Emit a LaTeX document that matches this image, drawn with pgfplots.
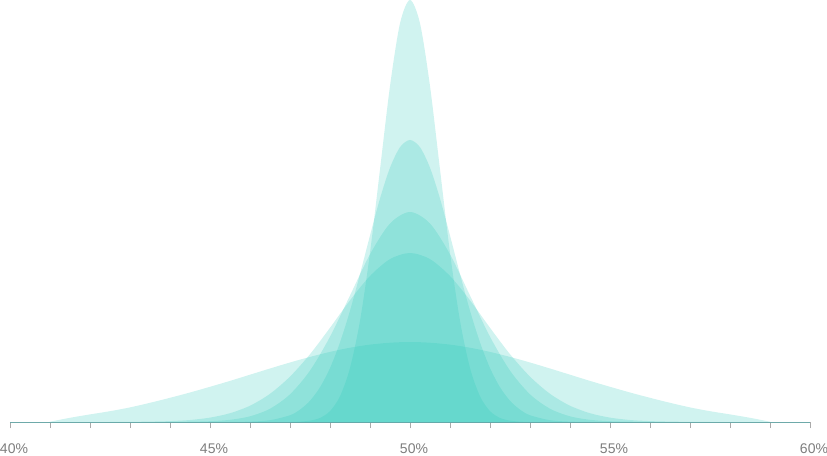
\documentclass[border=0pt]{standalone}
\usepackage{fontspec}
\setmainfont{Liberation Sans}
\usepackage{pgfplots}
\pgfplotsset{compat=1.18}
\definecolor{bell}{RGB}{41,200,185}
\definecolor{axisteal}{RGB}{110,170,170}
\definecolor{tickgray}{RGB}{170,170,170}
\definecolor{labelgray}{RGB}{125,125,125}

\begin{document}
\begin{tikzpicture}
\begin{axis}[
  at={(0pt,0pt)}, anchor=south west,
  scale only axis,
  width=800pt, height=422pt,
  xmin=40, xmax=60, ymin=0, ymax=422,
  axis x line*=bottom, axis y line=none,
  x axis line style={axisteal, line width=0.9pt, -},
  xtick={40,45,...,60},
  minor xtick={40,...,60},
  tick align=outside,
  major tick length=6pt, minor tick length=6pt,
  tick style={tickgray, line width=0.9pt},
  xticklabel={\pgfmathprintnumber{\tick}\%},
  xticklabel style={font=\fontsize{14}{16}\selectfont, text=labelgray, xshift=4pt, yshift=-12pt},
  /pgf/number format/assume math mode=true,
  clip=false,
]
% widest
\addplot[draw=none, fill=bell, fill opacity=0.22, smooth] coordinates {
 (41,0.3) (41.5,4.2) (42,7.6) (42.5,10.8) (43,14.6) (43.5,19.2) (44,24.2) (44.5,29.5)
 (45,35.2) (45.5,41.1) (46,47.3) (46.5,53.5) (47,59.5) (47.5,65.1) (48,70.1) (48.5,74.3)
 (49,77.4) (49.5,79.3) (50,80) (50.5,79.3) (51,77.4) (51.5,74.3) (52,70.1) (52.5,65.1)
 (53,59.5) (53.5,53.5) (54,47.3) (54.5,41.1) (55,35.2) (55.5,29.5) (56,24.2) (56.5,19.2)
 (57,14.6) (57.5,10.8) (58,7.6) (58.5,4.2) (59,0.3)
} \closedcycle;
\addplot[draw=none, fill=bell, fill opacity=0.22, smooth] coordinates {
 (42.5,0) (43,0.1) (43.5,0.4) (44,0.9) (44.5,2.0) (45,4.4) (45.5,8.8) (46,16.3) (46.5,28.2)
 (47,45.4) (47.5,67.8) (48,94.2) (48.5,121.7) (49,146.0) (49.5,162.9) (50,169)
 (50.5,162.9) (51,146.0) (51.5,121.7) (52,94.2) (52.5,67.8) (53,45.4) (53.5,28.2)
 (54,16.3) (54.5,8.8) (55,4.4) (55.5,2.0) (56,0.9) (56.5,0.4) (57,0.1) (57.5,0)
} \closedcycle;
\addplot[draw=none, fill=bell, fill opacity=0.22, smooth] coordinates {
 (44,0) (44.5,0.3) (45,0.8) (45.5,2.2) (46,5.7) (46.5,13.3) (47,27.7) (47.5,51.4)
 (48,85.3) (48.5,126.5) (49,167.7) (49.5,198.5) (50,210) (50.5,198.5) (51,167.7)
 (51.5,126.5) (52,85.3) (52.5,51.4) (53,27.7) (53.5,13.3) (54,5.7) (54.5,2.2)
 (55,0.8) (55.5,0.3) (56,0)
} \closedcycle;
\addplot[draw=none, fill=bell, fill opacity=0.22, smooth] coordinates {
 (45.5,0) (46,0.4) (46.5,1.8) (47,6.8) (47.25,12.4) (47.5,21.3) (47.75,34.8) (48,54.0)
 (48.25,79.6) (48.5,111.3) (48.75,147.9) (49,186.5) (49.25,223.5) (49.5,254.3)
 (49.75,274.8) (50,282) (50.25,274.8) (50.5,254.3) (50.75,223.5) (51,186.5)
 (51.25,147.9) (51.5,111.3) (51.75,79.6) (52,54.0) (52.25,34.8) (52.5,21.3)
 (52.75,12.4) (53,6.8) (53.5,1.8) (54,0.4) (54.5,0)
} \closedcycle;
% tallest
\addplot[draw=none, fill=bell, fill opacity=0.22, smooth] coordinates {
 (47,0) (47.25,0.4) (47.5,1.4) (47.75,4.1) (48,10.9) (48.25,25.8) (48.5,54.1)
 (48.75,101.3) (49,169.3) (49.25,252.5) (49.5,335.9) (49.75,398.6) (50,422)
 (50.25,398.6) (50.5,335.9) (50.75,252.5) (51,169.3) (51.25,101.3) (51.5,54.1)
 (51.75,25.8) (52,10.9) (52.25,4.1) (52.5,1.4) (52.75,0.4) (53,0)
} \closedcycle;
\end{axis}
\pgfresetboundingbox
\path[use as bounding box] (-10pt,-33pt) rectangle (817pt,422pt);
\end{tikzpicture}
\end{document}
